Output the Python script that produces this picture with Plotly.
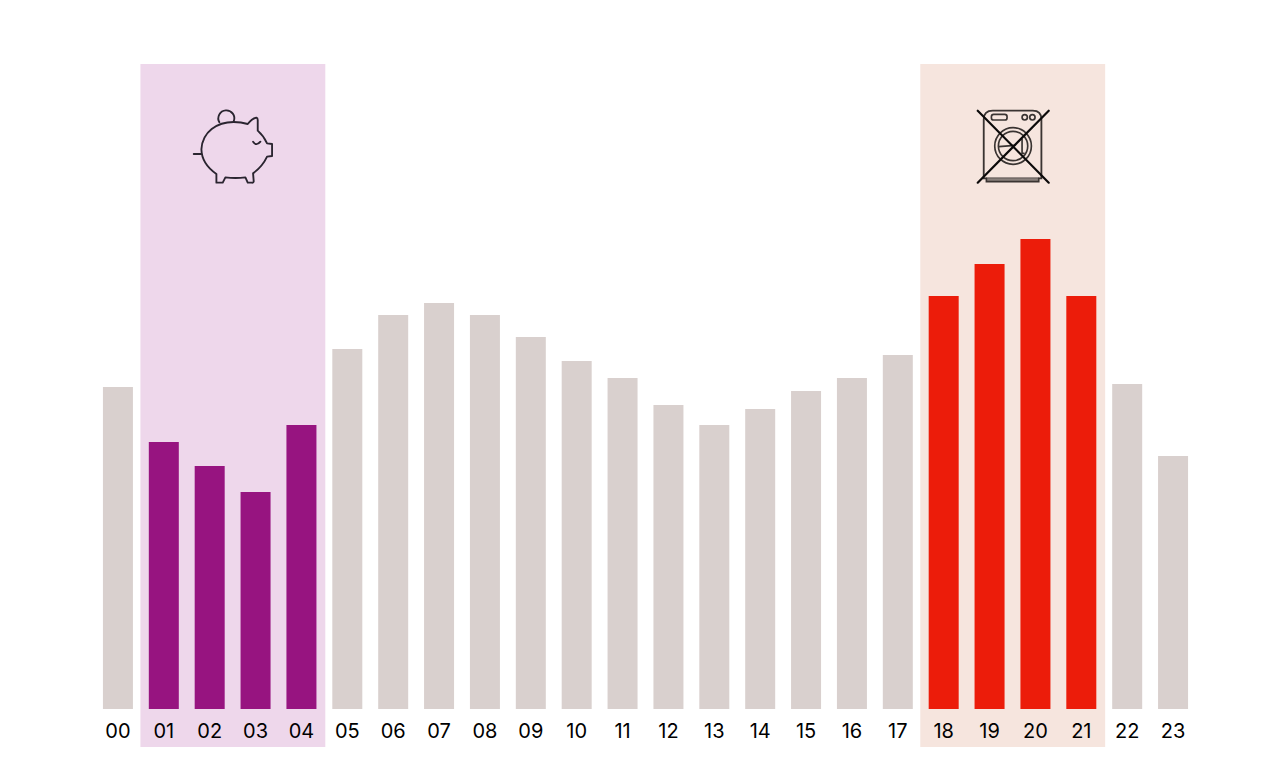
import base64
import plotly.graph_objects as go

hours = ["00","01","02","03","04","05","06","07","08","09","10","11","12","13","14","15","16","17","18","19","20","21","22","23"]
values = [322,267,243,217,284,360,394,406,394,372,348,331,304,284,300,318,331,354,413,445,470,413,325,253]
cheap_hours = ["01","02","03","04"]
peak_hours = ["18","19","20","21"]

GREY, PURPLE, RED = "#D9D0CE", "#971480", "#EC1C0A"
PINK_BG, PEACH_BG = "#EED7EB", "#F6E5DE"

W, H = 1280, 774
L, R, T, B = 94.6, 84.4, 64, 65
PW, PH = W - L - R, H - T - B

def px(x): return (x - L) / PW
def py(y): return (H - B - y) / PH

colors = [PURPLE if h in cheap_hours else RED if h in peak_hours else GREY for h in hours]

PIG = """<svg xmlns='http://www.w3.org/2000/svg' viewBox='0 0 390 330' width='390' height='330'>
<g fill='none' stroke='#2a2530' stroke-width='5.6' stroke-linejoin='round' stroke-linecap='round'>
<path d='M70 192 H93'/>
<path d='M232 102 Q244 86 258 83 Q262 84 262 90 L262 122 Q280 138 290 160 L305 162 L305 198 L290 200
 Q276 230 248 250 L250 274 Q249 279 244 278 L232 278 L225 262 Q195 266 165 262 L157 278 L138 278 L138 252
 Q94 222 93 178 C96 125 140 96 190 96 Q212 96 232 102 Z'/>
<path d='M147 97 A24 24 0 1 1 190 94'/>
<path d='M248 155 Q258 170 270 155'/>
</g></svg>"""

WASHER = """<svg xmlns='http://www.w3.org/2000/svg' viewBox='0 0 345 330' width='345' height='330'>
<g fill='none' stroke='#3a3432' stroke-width='5' stroke-linecap='round'>
<path d='M85 265 V88 Q85 62 112 62 H232 Q258 62 258 88 V265 Z' stroke-width='5.5'/>
<path d='M93 265 V275 H250 V265' fill='#8a807c'/>
<rect x='108' y='73' width='47' height='17' rx='7'/>
<circle cx='208' cy='82' r='8'/><circle cx='231' cy='82' r='8'/>
<circle cx='173' cy='168' r='55'/><circle cx='173' cy='168' r='44'/>
<path d='M130 170 L178 166 M200 148 V190 H206'/>
</g>
<g stroke='#0c0a0a' stroke-width='6.5' stroke-linecap='round'>
<path d='M67 62 L280 278 M280 62 L67 278'/>
</g></svg>"""

def uri(svg):
    return "data:image/svg+xml;base64," + base64.b64encode(svg.encode()).decode()

fig = go.Figure(go.Bar(x=hours, y=values, marker=dict(color=colors, line_width=0), width=0.654, hoverinfo="skip"))

band_bottom = py(747)
for first, last, col in [(0.49, 4.52, PINK_BG), (17.49, 21.52, PEACH_BG)]:
    fig.add_shape(type="rect", xref="x", yref="paper", x0=first, x1=last, y0=band_bottom, y1=1,
                  fillcolor=col, line_width=0, layer="below")

fig.update_layout(
    width=W, height=H, margin=dict(l=L, r=R, t=T, b=B, autoexpand=False),
    paper_bgcolor="white", plot_bgcolor="rgba(0,0,0,0)", showlegend=False,
    font=dict(family="Inter", color="#000000", size=20),
    xaxis=dict(type="category", range=[-0.5, 23.5], showgrid=False, zeroline=False, showline=False,
               ticks="", tickfont=dict(size=20, family="Inter", weight=400, color="#000000"), tickangle=0,
               ticklabelstandoff=8, fixedrange=True, automargin=False),
    yaxis=dict(range=[0, 645], visible=False, fixedrange=True),
    images=[
        dict(source=uri(PIG), xref="paper", yref="paper", x=px(170), y=py(90), sizex=130/PW, sizey=110/PH,
             xanchor="left", yanchor="top", sizing="stretch", layer="above"),
        dict(source=uri(WASHER), xref="paper", yref="paper", x=px(955), y=py(90), sizex=115/PW, sizey=110/PH,
             xanchor="left", yanchor="top", sizing="stretch", layer="above"),
    ],
)

fig.write_html("out.html", config=dict(displayModeBar=False),
               post_script="document.body.style.margin='0';document.documentElement.style.overflow='hidden';")
